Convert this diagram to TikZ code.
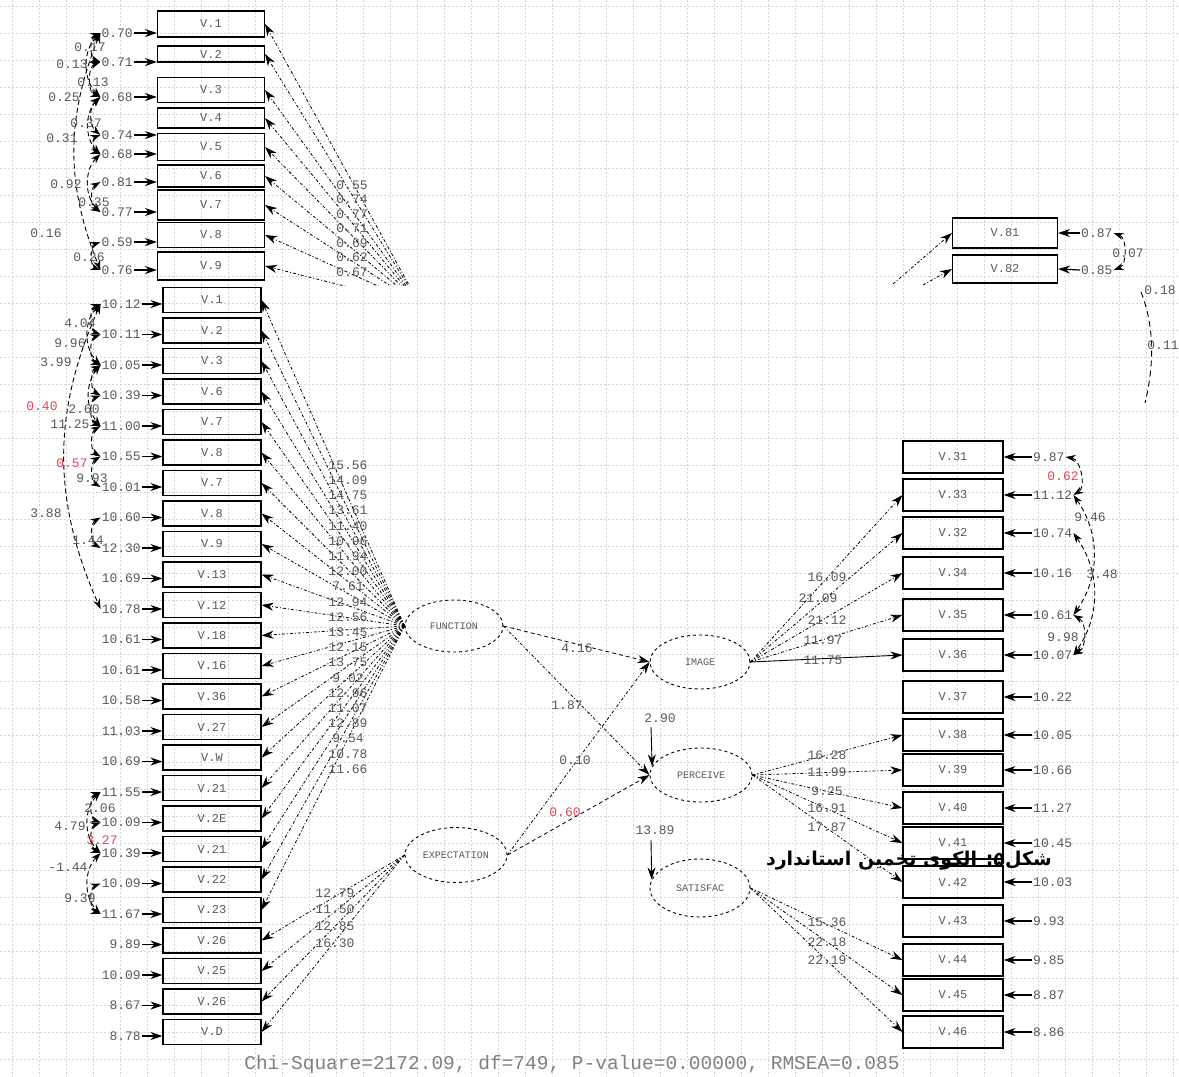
\documentclass[tikz,border=0pt]{standalone}
\usepackage{fontspec}
\setmonofont{Liberation Mono}
\newfontfamily\fafont[Script=Arabic]{DejaVu Sans}
\TeXXeTstate=1
\usetikzlibrary{shapes.geometric,arrows.meta}
\definecolor{txt}{gray}{0.35}
\definecolor{redlab}{RGB}{225,70,85}
\definecolor{gridc}{gray}{0.84}
\tikzset{
 vbox/.style={draw, line width=1.1pt, minimum width=104pt, inner sep=0pt, font=\ttfamily\fontsize{12}{12}\selectfont, text=txt},
 rbox/.style={draw, line width=1.1pt, minimum width=100pt, minimum height=32pt, inner sep=0pt, font=\ttfamily\fontsize{12}{12}\selectfont, text=txt},
 latent/.style={ellipse, draw, dashed, line width=0.9pt, minimum width=100pt, minimum height=54pt, inner sep=0pt, font=\ttfamily\fontsize{10}{10}\selectfont, text=txt},
 numlab/.style={inner sep=1pt, font=\ttfamily\fontsize{13}{13}\selectfont, text=txt},
 rednum/.style={numlab, text=redlab},
 arrowtip/.style={-{Stealth[length=12pt,width=8pt]}},
 errarr/.style={arrowtip, line width=1.2pt},
 fanline/.style={arrowtip, line width=0.8pt, dash pattern=on 3pt off 2pt on 1pt off 2pt},
 fandash/.style={arrowtip, line width=0.8pt, dash pattern=on 4pt off 3pt},
 solidarr/.style={arrowtip, line width=0.9pt},
 covarc/.style={{Stealth[length=10pt,width=7pt]}-{Stealth[length=10pt,width=7pt]}, line width=0.9pt, dash pattern=on 5pt off 3pt},
 gridl/.style={gridc, line width=0.6pt, dash pattern=on 1.5pt off 2.5pt}
}
\begin{document}
\begin{tikzpicture}[x=1pt,y=-1pt]
\fill[white] (0,0) rectangle (1179,1077);
\useasboundingbox (0,0) rectangle (1179,1077);
% grid
\foreach \gx in {12,39,...,1179} \draw[gridl] (\gx,0) -- (\gx,1077);
\foreach \gy in {6,33,...,1077} \draw[gridl] (0,\gy) -- (1179,\gy);

% ---------- top strip ----------
\foreach \lab/\cy/\h [count=\i from 0] in {V.1/24/26, V.2/54/16, V.3/90/25, V.4/118/20, V.5/147/27, V.6/176/22, V.7/205/30, V.8/235/25, V.9/266/28}
  \node[vbox, minimum width=107pt, minimum height={\h pt}] (T\i) at (211,\cy) {\lab};
\foreach \v/\ey/\b [count=\i from 0] in {0.70/33/0, 0.71/62/1, 0.68/97/2, 0.74/135/4, 0.68/154/4, 0.81/182/5, 0.77/212/6, 0.59/242/7, 0.76/270/8}
 { \node[numlab, anchor=east] (TE\i) at (134,\ey) {\v};
   \draw[errarr] (TE\i.east) -- (T\b.west |- TE\i.east); }
\begin{scope}
\clip (0,0) rectangle (1179,285);
\coordinate (topfan) at (420,305);
\foreach \i in {0,...,8} \draw[fanline] (topfan) -- (T\i.east);
\end{scope}
\foreach \v [count=\k from 0] in {0.55,0.74,0.77,0.71,0.69,0.62,0.67}
  \node[numlab] at (352,{185+14.5*\k}) {\v};
\draw[covarc] (TE0.west) to[bend right=70] (TE1.west);
\draw[covarc] (TE1.west) to[bend right=70] (TE2.west);
\draw[covarc] (TE0.west) to[bend right=45] (TE2.west);
\draw[covarc] (TE2.west) to[bend right=50] (TE3.west);
\draw[covarc] (TE3.west) to[bend right=70] (TE4.west);
\draw[covarc] (TE2.west) to[bend right=45] (TE4.west);
\draw[covarc] (TE4.west) to[bend right=45] (TE6.west);
\draw[covarc] (TE5.west) to[bend right=60] (TE6.west);
\draw[covarc] (TE7.west) to[bend right=70] (TE8.west);
\draw[covarc] (TE0.west) to[bend right=22] (TE8.west);
\node[numlab] at (90,47) {0.17};
\node[numlab] at (72,64) {0.13};
\node[numlab] at (93,82) {0.13};
\node[numlab] at (64,97) {0.25};
\node[numlab] at (86,123) {0.37};
\node[numlab] at (62,138) {0.31};
\node[numlab] at (66,184) {0.92};
\node[numlab] at (94,202) {0.35};
\node[numlab] at (46,233) {0.16};
\node[numlab] at (89,257) {0.26};

% top right
\node[rbox, minimum width=105pt, minimum height=30pt] (V81) at (1005,233) {V.81};
\node[rbox, minimum width=105pt, minimum height=28pt] (V82) at (1005,269) {V.82};
\node[numlab, anchor=west] (E81) at (1080,233) {0.87};
\node[numlab, anchor=west] (E82) at (1080,270) {0.85};
\draw[errarr] (E81.west) -- (V81.east);
\draw[errarr] (E82.west) -- (V82.east);
\draw[covarc] (E81.east) to[bend left=70] (E82.east);
\node[numlab] at (1128,253) {0.07};
\node[numlab] at (1160,290) {0.18};
\draw[line width=0.9pt, dash pattern=on 6pt off 4pt] (1141,292) .. controls (1156,330) and (1153,370) .. (1145,403);
\node[numlab] at (1163,345) {0.11};
\coordinate (c81) at (893,284);
\coordinate (c82) at (923,285);
\draw[fanline] (c81) -- (V81.west);
\draw[fanline] (c82) -- (V82.west);

% ---------- main left column ----------
\foreach \lab [count=\i from 0] in {V.1,V.2,V.3,V.6,V.7,V.8,V.7,V.8,V.9,V.13,V.12,V.18,V.16,V.36,V.27,V.W,V.21,V.2E,V.21,V.22,V.23,V.26,V.25,V.26,V.D}
  \node[vbox, minimum width=98pt, minimum height=25pt] (L\i) at (212,{300+30.5*\i}) {\lab};
\foreach \v [count=\i from 0] in {10.12,10.11,10.05,10.39,11.00,10.55,10.01,10.60,12.30,10.69,10.78,10.61,10.61,10.58,11.03,10.69,11.55,10.09,10.39,10.09,11.67,9.89,10.09,8.67,8.78}
 { \node[numlab, anchor=east] (EL\i) at (142,{304+30.5*\i}) {\v};
   \draw[errarr] (EL\i.east) -- (L\i.west |- EL\i.east); }

% left covariances
\draw[covarc] (EL0.west) to[bend right=24] (EL10.west);
\draw[covarc] (EL0.west) to[bend right=70] (EL1.west);
\draw[covarc] (EL1.west) to[bend right=70] (EL2.west);
\draw[covarc] (EL0.west) to[bend right=45] (EL2.west);
\draw[covarc] (EL2.west) to[bend right=60] (EL3.west);
\draw[covarc] (EL3.west) to[bend right=70] (EL4.west);
\draw[covarc] (EL2.west) to[bend right=40] (EL4.west);
\draw[covarc] (EL4.west) to[bend right=60] (EL5.west);
\draw[covarc] (EL5.west) to[bend right=60] (EL6.west);
\draw[covarc] (EL7.west) to[bend right=60] (EL8.west);
\draw[covarc] (EL16.west) to[bend right=70] (EL17.west);
\draw[covarc] (EL16.west) to[bend right=45] (EL18.west);
\draw[covarc] (EL17.west) to[bend right=70] (EL18.west);
\draw[covarc] (EL18.west) to[bend right=45] (EL20.west);
\draw[covarc] (EL19.west) to[bend right=70] (EL20.west);
\node[numlab] at (46,513) {3.88};
\node[numlab] at (80,323) {4.04};
\node[numlab] at (70,343) {9.96};
\node[numlab] at (56,362) {3.99};
\node[numlab] at (84,409) {2.60};
\node[rednum] at (42,406) {0.40};
\node[numlab] at (70,424) {11.25};
\node[rednum] at (72,463) {0.57};
\node[numlab] at (92,478) {9.93};
\node[numlab] at (88,540) {1.44};
\node[numlab] at (100,808) {2.06};
\node[numlab] at (70,826) {4.79};
\node[rednum] at (102,840) {3.27};
\node[numlab] at (68,867) {-1.44};
\node[numlab] at (80,898) {9.39};

% ---------- latent variables ----------
\node[latent, minimum width=98pt, minimum height=52pt] (F) at (454,626) {FUNCTION};
\node[latent] (IM) at (700,662) {IMAGE};
\node[latent, minimum width=102pt] (P) at (701,775) {PERCEIVE};
\node[latent, minimum width=102pt, minimum height=55pt] (EX) at (456,855) {EXPECTATION};
\node[latent, minimum height=58pt] (S) at (700,888) {SATISFAC};

% loadings of FUNCTION and EXPECTATION
\foreach \i in {0,...,20} \draw[fanline] (F.west) -- (L\i.east);
\foreach \v [count=\k from 0] in {15.56,14.09,14.75,13.61,11.40,10.96,11.94,12.00,7.61,12.94,12.56,13.45,12.15,13.75,9.02,12.96,11.07,12.89,9.54,10.78,11.66}
  \node[numlab] at (348,{465+15.2*\k}) {\v};
\foreach \i in {21,...,24} \draw[fanline] (EX.west) -- (L\i.east);
\foreach \v [count=\k from 0] in {12.79,11.50,12.85,16.30}
  \node[numlab] at (335,{893+16.7*\k}) {\v};

% structural paths
\draw[fandash] (F.east) -- (IM.west);
\draw[fanline] (F.east) -- (P.west);
\draw[fanline] (EX.east) -- (IM.west);
\draw[fandash] (EX.east) -- (P.west);
\coordinate (ip) at (651,727);
\coordinate (ps) at (651,840);
\draw[solidarr] (ip) -- (P.170);
\draw[solidarr] (ps) -- (S.170);
\node[numlab] at (577,648) {4.16};
\node[numlab] at (567,705) {1.87};
\node[numlab] at (575,760) {0.10};
\node[rednum] at (565,812) {0.60};
\node[numlab] at (660,718) {2.90};
\node[numlab] at (655,830) {13.89};

% ---------- right column ----------
\foreach \lab/\cy/\e [count=\i from 0] in {V.31/457/9.87, V.33/495/11.12, V.32/533/10.74, V.34/573/10.16, V.35/615/10.61, V.36/655/10.07, V.37/697/10.22, V.38/735/10.05, V.39/770/10.66, V.40/808/11.27, V.41/843/10.45, V.42/882/10.03, V.43/921/9.93, V.44/960/9.85, V.45/995/8.87, V.46/1032/8.86}
 { \node[rbox] (R\i) at (953,\cy) {\lab};
   \node[numlab, anchor=west] (ER\i) at (1032,\cy) {\e};
   \draw[errarr] (ER\i.west) -- (R\i.east); }
\foreach \i in {1,...,4} \draw[fanline] (IM.east) -- (R\i.west);
\draw[solidarr] (IM.east) -- (R5.west);
\foreach \i in {7,...,11} \draw[fanline] (P.east) -- (R\i.west);
\foreach \i in {13,14,15} \draw[fanline] (S.east) -- (R\i.west);
\foreach \v/\lx/\ly in {16.09/827/577, 21.09/818/598, 21.12/827/620, 11.97/823/640, 11.75/823/660,
  16.28/827/755, 11.99/827/772, 9.25/827/791, 16.91/827/808, 17.87/827/827,
  15.36/827/922, 22.18/827/942, 22.19/827/960}
  \node[numlab] at (\lx,\ly) {\v};
\draw[covarc] (ER0.east) to[bend left=70] (ER1.east);
\draw[covarc] (ER1.east) to[bend left=35] (ER4.east);
\draw[covarc] (ER2.east) to[bend left=35] (ER5.east);
\draw[covarc] (ER4.east) to[bend left=60] (ER5.east);
\node[rednum] at (1063,476) {0.62};
\node[numlab] at (1090,517) {9.46};
\node[numlab] at (1102,574) {3.48};
\node[numlab] at (1063,637) {9.98};

% ---------- caption and fit ----------
\node[font=\fafont\bfseries\fontsize{19}{19}\selectfont, anchor=east, inner sep=0pt] (cap) at (1052,861) {\beginR شکل۵: الکوی تخمین استاندارد\endR};
\node[font=\ttfamily\fontsize{19.5}{19.5}\selectfont, text=gray, inner sep=0pt] (stats) at (572,1064) {Chi-Square=2172.09, df=749, P-value=0.00000, RMSEA=0.085};
\end{tikzpicture}
\end{document}
